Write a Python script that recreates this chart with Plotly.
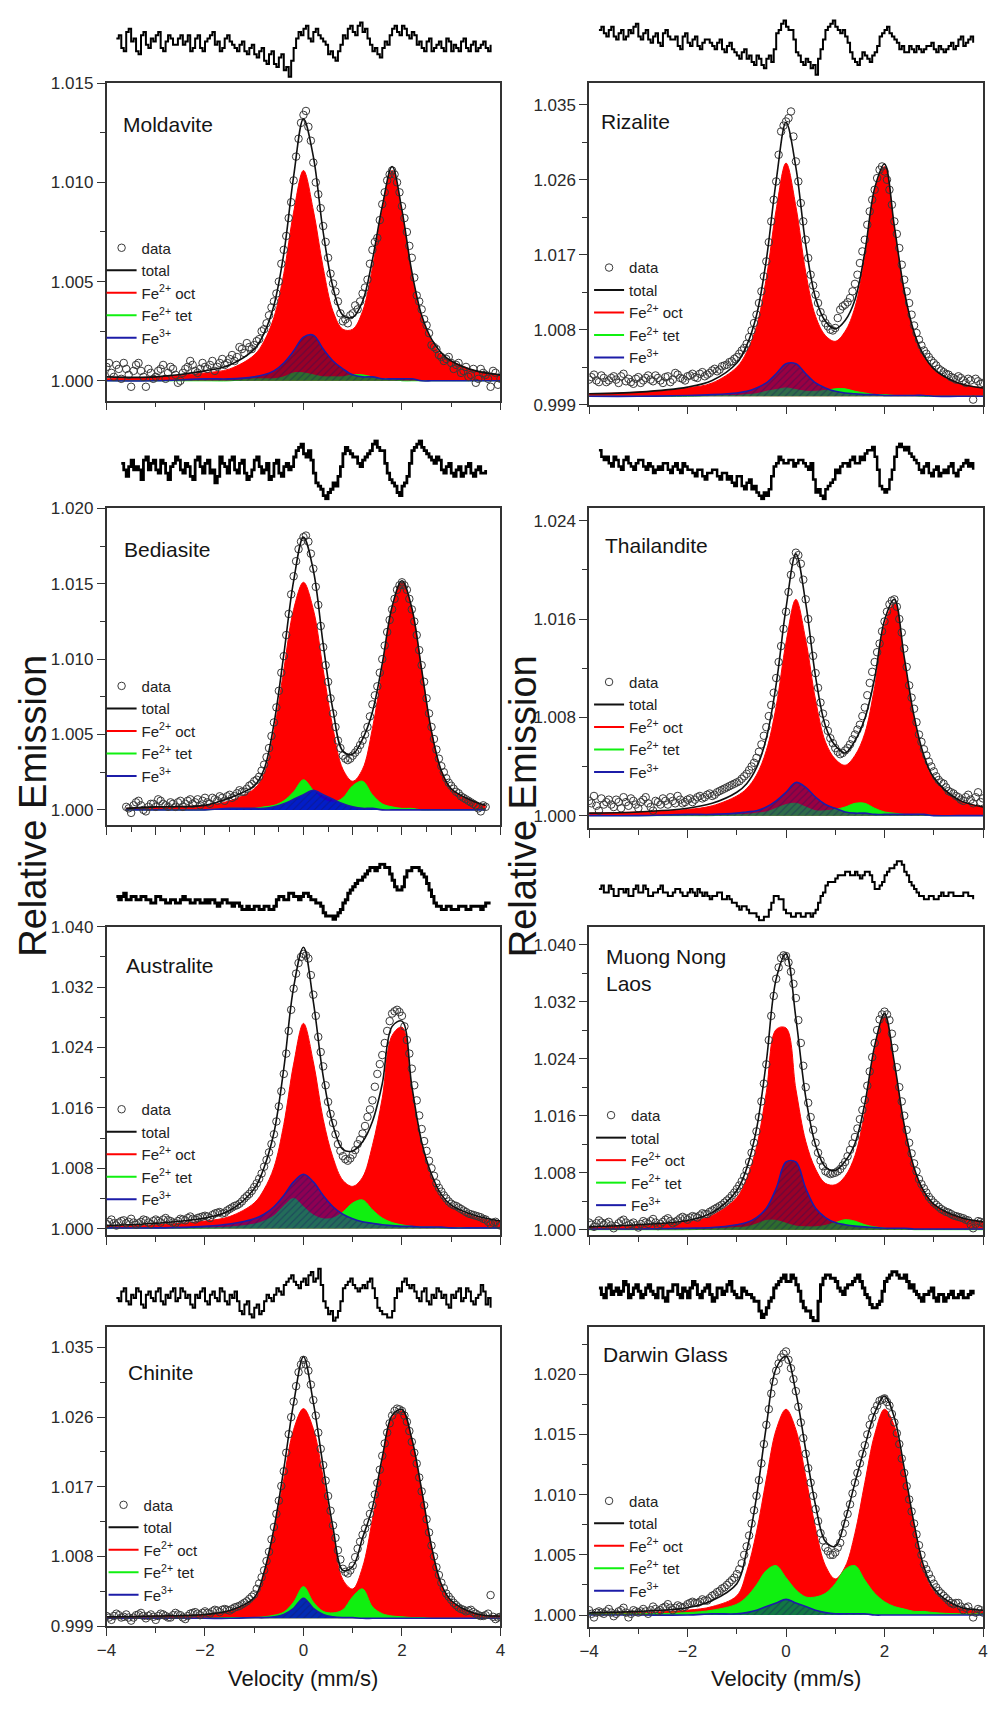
import plotly.graph_objects as go

W, H = 988, 1731
FONT = "Arial, Liberation Sans, sans-serif"

# ---------------- fit grids (velocity, mm/s) ----------------
XG = [-4.0, -3.0, -2.0, -1.5, -1.0, -0.8, -0.6, -0.4, -0.2, 0.0, 0.2, 0.4, 0.6, 0.8, 1.0,
      1.2, 1.4, 1.6, 1.8, 2.0, 2.2, 2.4, 2.6, 2.8, 3.0, 3.5, 4.0]
XG_BED = [-3.6, -3.0, -2.0, -1.5, -1.0, -0.8, -0.6, -0.4, -0.2, 0.0, 0.2, 0.4, 0.6, 0.8, 1.0,
          1.2, 1.4, 1.6, 1.8, 2.0, 2.2, 2.4, 2.6, 2.8, 3.0, 3.5, 3.7]

# ---------------- Moldavite ----------------
MOLD_OCT = [1.0001, 1.0002, 1.0004, 1.0006, 1.0013, 1.0020, 1.0032, 1.0054, 1.0085, 1.0106, 1.0086, 1.0057, 1.0035, 1.0026,
            1.0026, 1.0035, 1.0057, 1.0086, 1.0106, 1.0085, 1.0054, 1.0032, 1.0020, 1.0013, 1.0010, 1.0005, 1.0003]
MOLD_TET = [1.0000, 1.0000, 1.0000, 1.0000, 1.0001, 1.0001, 1.0001, 1.0002, 1.0004, 1.0004, 1.0003, 1.0002, 1.0002, 1.0002,
            1.0003, 1.0003, 1.0002, 1.0001, 1.0001, 1.0000, 1.0000, 1.0000, 1.0000, 1.0000, 1.0000, 1.0000, 1.0000]
MOLD_FE3 = [1.0000, 1.0000, 1.0001, 1.0001, 1.0002, 1.0003, 1.0005, 1.0009, 1.0015, 1.0022, 1.0023, 1.0016, 1.0010, 1.0006,
            1.0003, 1.0002, 1.0002, 1.0001, 1.0001, 1.0001, 1.0001, 1.0000, 1.0000, 1.0000, 1.0000, 1.0000, 1.0000]
MOLD_TOT = [1.0002, 1.0002, 1.0005, 1.0008, 1.0016, 1.0024, 1.0038, 1.0064, 1.0103, 1.0132, 1.0113, 1.0075, 1.0047, 1.0033,
            1.0032, 1.0040, 1.0061, 1.0088, 1.0108, 1.0086, 1.0055, 1.0033, 1.0021, 1.0014, 1.0010, 1.0005, 1.0003]
MOLD_DATA = [1.0007, 1.0004, 1.0008, 1.0001, 1.0006, 0.9997, 1.0008, 1.0005, 0.9997, 1.0004,
             1.0002, 1.0006, 1.0001, 1.0007, 1.0003, 1.0000, 1.0006, 1.0010, 1.0005, 1.0006,
             1.0007, 1.0008, 1.0005, 1.0009, 1.0008, 1.0011, 1.0010, 1.0017, 1.0014, 1.0017,
             1.0018, 1.0021, 1.0026, 1.0033, 1.0040, 1.0050, 1.0066, 1.0082, 1.0101, 1.0122,
             1.0134, 1.0128, 1.0110, 1.0094, 1.0078, 1.0062, 1.0049, 1.0040, 1.0030, 1.0029,
             1.0034, 1.0036, 1.0044, 1.0051, 1.0066, 1.0072, 1.0089, 1.0101, 1.0106, 1.0100,
             1.0088, 1.0075, 1.0062, 1.0043, 1.0036, 1.0028, 1.0018, 1.0016, 1.0012, 1.0011,
             1.0009, 1.0008, 1.0004, 1.0007, 1.0003, 0.9999, 1.0006, 1.0003, 0.9997, 1.0004,
             1.0001]
MOLD_DATA2 = [1.0009, 1.0002, 1.0006, 1.0009, 1.0003, 1.0005, 1.0009, 1.0002, 1.0006, 1.0001,
              1.0005, 1.0008, 1.0004, 1.0006, 0.9999, 1.0004, 1.0007, 1.0008, 1.0004, 1.0009,
              1.0006, 1.0010, 1.0007, 1.0011, 1.0009, 1.0013, 1.0012, 1.0016, 1.0019, 1.0016,
              1.0020, 1.0025, 1.0029, 1.0037, 1.0044, 1.0059, 1.0073, 1.0090, 1.0113, 1.0130,
              1.0136, 1.0121, 1.0100, 1.0087, 1.0070, 1.0054, 1.0045, 1.0034, 1.0031, 1.0033,
              1.0038, 1.0040, 1.0047, 1.0059, 1.0070, 1.0081, 1.0095, 1.0104, 1.0104, 1.0095,
              1.0082, 1.0068, 1.0052, 1.0040, 1.0031, 1.0024, 1.0017, 1.0013, 1.0010, 1.0012,
              1.0006, 1.0009, 1.0005, 1.0002, 1.0006, 1.0001, 1.0004, 1.0001, 1.0005, 0.9998]
MOLD_RES = [1, -2, 3, 0, -3, 2, -1, 1, 2, -2, 0, 1, -1, 2, 0, -3, 1, -2, 0, 2, -1, -3, 1, 0, -2, -1, -3,
            -2, -4, -3, -6, -4, -7, -5, -9, -11,
            -2, 3, 4, 1, 3, 2, 0,
            -4, -5, -3,
            2, 4, 3, 5, 3, 1,
            -3, -4, -2, -1,
            4, 3, 5, 2, 3,
            -1, -2, 0, -3, -1, -2, 1, -3, -2, 0, -2, -1, -3, -1, -2, -1]
MOLD_RES2 = [2, -3, 4, 1, -4, 3, -2, 0, 3, -3, 2, -1, 1, -1, 2, -2, 2, -3, 1, 3, 0, -2, 2, -1, -3, 0,
             -4, -1, -5, -2, -7, -3, -8, -4, -8, -6, 1, 2, 5, 0, 4, 1, -1, -3, -6, -1, 1, 5, 2, 6,
             4, -1, -2, -5, 0, 2, 5, 2, 4, 1, 2, 0, -3, 1, -2, 0, -3, 0, -1, -3, 1, -3, 0, -2, 0, -3]

# ---------------- Rizalite ----------------
RIZ_OCT = [1.0003, 1.0005, 1.0010, 1.0016, 1.0035, 1.0053, 1.0084, 1.0142, 1.0224, 1.0280, 1.0228, 1.0149, 1.0096, 1.0073,
           1.0066, 1.0078, 1.0107, 1.0167, 1.0246, 1.0276, 1.0202, 1.0125, 1.0075, 1.0048, 1.0032, 1.0016, 1.0010]
RIZ_TET = [1.0000, 1.0000, 1.0000, 1.0001, 1.0001, 1.0002, 1.0003, 1.0006, 1.0008, 1.0010, 1.0008, 1.0006, 1.0006, 1.0007,
           1.0009, 1.0009, 1.0006, 1.0004, 1.0002, 1.0002, 1.0001, 1.0001, 1.0001, 1.0000, 1.0000, 1.0000, 1.0000]
RIZ_FE3 = [1.0000, 1.0000, 1.0001, 1.0002, 1.0004, 1.0006, 1.0010, 1.0016, 1.0027, 1.0039, 1.0039, 1.0027, 1.0016, 1.0010,
           1.0006, 1.0004, 1.0003, 1.0002, 1.0002, 1.0001, 1.0001, 1.0001, 1.0001, 1.0001, 1.0000, 1.0000, 1.0000]
RIZ_TOT = [1.0003, 1.0005, 1.0011, 1.0019, 1.0040, 1.0061, 1.0097, 1.0164, 1.0259, 1.0329, 1.0275, 1.0182, 1.0118, 1.0090,
           1.0081, 1.0091, 1.0116, 1.0173, 1.0250, 1.0279, 1.0204, 1.0127, 1.0077, 1.0049, 1.0033, 1.0016, 1.0010]
RIZ_DATA = [1.0020, 1.0026, 1.0017, 1.0022, 1.0019, 1.0024, 1.0016, 1.0027, 1.0021, 1.0015,
            1.0023, 1.0019, 1.0025, 1.0018, 1.0022, 1.0016, 1.0024, 1.0020, 1.0026, 1.0021,
            1.0024, 1.0027, 1.0022, 1.0029, 1.0026, 1.0031, 1.0030, 1.0036, 1.0038, 1.0042,
            1.0047, 1.0055, 1.0063, 1.0079, 1.0098, 1.0126, 1.0162, 1.0210, 1.0258, 1.0318,
            1.0330, 1.0342, 1.0282, 1.0232, 1.0188, 1.0146, 1.0122, 1.0101, 1.0088, 1.0080,
            1.0082, 1.0104, 1.0110, 1.0118, 1.0135, 1.0160, 1.0188, 1.0222, 1.0248, 1.0272,
            1.0270, 1.0248, 1.0210, 1.0178, 1.0140, 1.0112, 1.0085, 1.0068, 1.0055, 1.0047,
            1.0040, 1.0033, 1.0029, 1.0026, 1.0022, 1.0024, 1.0019, 1.0021, 0.9996, 1.0018,
            1.0016]
RIZ_DATA2 = [1.0023, 1.0019, 1.0025, 1.0017, 1.0022, 1.0020, 1.0024, 1.0018, 1.0017, 1.0021,
             1.0016, 1.0022, 1.0020, 1.0025, 1.0019, 1.0023, 1.0017, 1.0028, 1.0022, 1.0019,
             1.0025, 1.0023, 1.0027, 1.0024, 1.0028, 1.0033, 1.0032, 1.0037, 1.0041, 1.0045,
             1.0051, 1.0058, 1.0071, 1.0088, 1.0112, 1.0144, 1.0185, 1.0236, 1.0290, 1.0325,
             1.0334, 1.0312, 1.0258, 1.0210, 1.0166, 1.0133, 1.0112, 1.0094, 1.0084, 1.0079,
             1.0094, 1.0108, 1.0113, 1.0126, 1.0146, 1.0174, 1.0206, 1.0236, 1.0262, 1.0276,
             1.0260, 1.0230, 1.0195, 1.0158, 1.0126, 1.0098, 1.0076, 1.0061, 1.0051, 1.0043,
             1.0037, 1.0031, 1.0027, 1.0023, 1.0020, 1.0022, 1.0016, 1.0019, 1.0021, 1.0015]
RIZ_RES = [4, 3, 4, 2, 3, 1, 4, 5, 2, 3, 1, 2, 0, 3, 2, 1, -1, 2, 0, 1, -1, 0, 1, -1, 0, -2, -1,
           -2, -4, -3, -5, -6, -4, -7, -5, -6,
           3, 6, 5, 4,
           -3, -6, -5, -8, -10,
           -2, 4, 6, 5, 3, 2,
           -3, -6, -5, -4, -6, -3,
           2, 4, 3, 1,
           -2, -3, -1, -3, -2, -2, -1, -2, -1, -3, -1, -2, 1, -1, 1, 0]
RIZ_RES2 = [5, 2, 5, 1, 4, 2, 3, 6, 1, 4, 0, 3, -1, 4, 1, 2, -2, 3, -1, 2, -2, 1, 0, -2, 1, -3,
            0, -3, -5, -2, -4, -7, -5, -8, -4, -2, 4, 7, 4, 1, -4, -7, -6, -7, -5, 1, 5, 7, 4, 4,
            0, -5, -7, -3, -5, -4, -1, 3, 5, 2, 0, -1, -3, -2, -1, -3, -1, 0, -3, -2, -2, 0, -1, 2, 0, 2]

# ---------------- Bediasite ----------------
BED_OCT = [1.0001, 1.0002, 1.0003, 1.0006, 1.0014, 1.0024, 1.0052, 1.0093, 1.0133, 1.0151, 1.0133, 1.0093, 1.0054, 1.0027,
           1.0019, 1.0027, 1.0054, 1.0093, 1.0133, 1.0151, 1.0133, 1.0093, 1.0052, 1.0026, 1.0014, 1.0005, 1.0003]
BED_TET = [1.0000, 1.0000, 1.0000, 1.0001, 1.0001, 1.0002, 1.0003, 1.0006, 1.0012, 1.0020, 1.0013, 1.0007, 1.0005, 1.0008,
           1.0016, 1.0019, 1.0010, 1.0004, 1.0002, 1.0001, 1.0001, 1.0000, 1.0000, 1.0000, 1.0000, 1.0000, 1.0000]
BED_FE3 = [1.0000, 1.0000, 1.0000, 1.0001, 1.0001, 1.0001, 1.0002, 1.0004, 1.0007, 1.0010, 1.0013, 1.0010, 1.0007, 1.0004,
           1.0002, 1.0001, 1.0001, 1.0000, 1.0000, 1.0000, 1.0000, 1.0000, 1.0000, 1.0000, 1.0000, 1.0000, 1.0000]
BED_TOT = [1.0001, 1.0002, 1.0003, 1.0008, 1.0016, 1.0027, 1.0057, 1.0103, 1.0152, 1.0181, 1.0159, 1.0110, 1.0066, 1.0039,
           1.0037, 1.0047, 1.0065, 1.0097, 1.0135, 1.0152, 1.0134, 1.0093, 1.0052, 1.0026, 1.0014, 1.0005, 1.0003]
BED_DATA = [1.0002, 0.9998, 1.0005, 1.0003, 0.9999, 1.0004, 1.0002, 1.0006, 1.0003, 1.0005,
            1.0002, 1.0006, 1.0004, 1.0007, 1.0005, 1.0003, 1.0008, 1.0004, 1.0007, 1.0009,
            1.0006, 1.0010, 1.0009, 1.0013, 1.0012, 1.0016, 1.0019, 1.0022, 1.0030, 1.0041,
            1.0058, 1.0079, 1.0102, 1.0130, 1.0155, 1.0173, 1.0181, 1.0178, 1.0160, 1.0136,
            1.0108, 1.0085, 1.0064, 1.0046, 1.0036, 1.0033, 1.0036, 1.0040, 1.0046, 1.0055,
            1.0070, 1.0082, 1.0100, 1.0118, 1.0133, 1.0146, 1.0151, 1.0146, 1.0133, 1.0116,
            1.0096, 1.0074, 1.0055, 1.0040, 1.0029, 1.0021, 1.0016, 1.0012, 1.0009, 1.0007,
            1.0005, 1.0003, 0.9999, 1.0002]
BED_DATA2 = [1.0001, 1.0003, 1.0006, 1.0000, 1.0002, 1.0004, 1.0007, 1.0004, 1.0002, 1.0004,
             1.0005, 1.0002, 1.0006, 1.0004, 1.0007, 1.0006, 1.0005, 1.0008, 1.0006, 1.0008,
             1.0009, 1.0008, 1.0011, 1.0012, 1.0014, 1.0017, 1.0020, 1.0026, 1.0035, 1.0049,
             1.0068, 1.0091, 1.0116, 1.0143, 1.0165, 1.0178, 1.0182, 1.0170, 1.0148, 1.0122,
             1.0096, 1.0074, 1.0055, 1.0041, 1.0034, 1.0034, 1.0038, 1.0043, 1.0050, 1.0062,
             1.0076, 1.0091, 1.0109, 1.0126, 1.0140, 1.0149, 1.0149, 1.0140, 1.0125, 1.0106,
             1.0085, 1.0064, 1.0047, 1.0034, 1.0025, 1.0018, 1.0014, 1.0011, 1.0008, 1.0006,
             1.0004, 1.0001, 1.0003]
BED_RES = [1, -3, 2, 0, -4, 3, 1, -1, 2, -2, 0, 3, -1, 1, -3, 2, 0, 1, -2, -5, 3, 0, 2, -1, 1, -2, -3, 2, 0, -1, -4, 1, -2, 0, -1,
           3, 6, 4, 5,
           -2, -6, -9, -8, -5, -3,
           4, 5, 3,
           1, 2, 4,
           7, 6, 5,
           -2, -5, -8, -6, -3,
           5, 7, 6, 4, 2, 3,
           -1, 0, -2, -1, -3, 0, -2, -1, -2, -1]
BED_RES2 = [-1, 0, -1, -1, 2, -1, 2, -2, 1, -4, 1, 2, -2, 0, -4, 3, -2, 2, -1, -3, 1, -2, 3, -2, 2, -4,
            -1, 3, -2, 1, -3, 2, -3, 1, 0, 5, 7, 3, 2, -5, -7, -10, -7, -6, 0, 6, 4, 3, 0, 3,
            5, 8, 5, 1, -4, -6, -9, -5, 1, 6, 8, 5, 3, 1, 2, -2, 1, -3, 0, -2, 1, -3, 0, -2]

# ---------------- Thailandite ----------------
THA_OCT = [1.0002, 1.0003, 1.0005, 1.0008, 1.0016, 1.0022, 1.0033, 1.0053, 1.0089, 1.0141, 1.0176, 1.0143, 1.0094, 1.0060,
           1.0046, 1.0041, 1.0049, 1.0067, 1.0105, 1.0155, 1.0173, 1.0127, 1.0079, 1.0047, 1.0030, 1.0013, 1.0007]
THA_TET = [1.0000, 1.0000, 1.0000, 1.0000, 1.0001, 1.0001, 1.0002, 1.0003, 1.0006, 1.0009, 1.0010, 1.0007, 1.0004, 1.0004,
           1.0005, 1.0007, 1.0010, 1.0010, 1.0006, 1.0003, 1.0002, 1.0001, 1.0001, 1.0001, 1.0000, 1.0000, 1.0000]
THA_FE3 = [1.0000, 1.0000, 1.0001, 1.0001, 1.0002, 1.0003, 1.0004, 1.0007, 1.0012, 1.0019, 1.0027, 1.0023, 1.0015, 1.0009,
           1.0006, 1.0003, 1.0002, 1.0002, 1.0001, 1.0001, 1.0001, 1.0001, 1.0001, 1.0001, 1.0000, 1.0000, 1.0000]
THA_TOT = [1.0002, 1.0003, 1.0006, 1.0010, 1.0019, 1.0026, 1.0039, 1.0063, 1.0107, 1.0169, 1.0213, 1.0173, 1.0113, 1.0073,
           1.0057, 1.0051, 1.0061, 1.0079, 1.0112, 1.0159, 1.0176, 1.0129, 1.0081, 1.0049, 1.0031, 1.0013, 1.0007]
THA_DATA = [1.0012, 1.0016, 1.0004, 1.0009, 1.0013, 1.0007, 1.0011, 1.0015, 1.0008, 1.0012,
            1.0006, 1.0013, 1.0010, 1.0004, 1.0011, 1.0014, 1.0009, 1.0012, 1.0016, 1.0010,
            1.0013, 1.0011, 1.0015, 1.0014, 1.0017, 1.0016, 1.0019, 1.0021, 1.0023, 1.0025,
            1.0027, 1.0030, 1.0034, 1.0040, 1.0047, 1.0058, 1.0072, 1.0090, 1.0112, 1.0138,
            1.0166, 1.0196, 1.0214, 1.0205, 1.0176, 1.0143, 1.0116, 1.0092, 1.0075, 1.0063,
            1.0055, 1.0050, 1.0053, 1.0058, 1.0066, 1.0074, 1.0088, 1.0108, 1.0125, 1.0140,
            1.0158, 1.0172, 1.0176, 1.0160, 1.0136, 1.0106, 1.0087, 1.0066, 1.0054, 1.0044,
            1.0036, 1.0029, 1.0026, 1.0020, 1.0018, 1.0015, 1.0012, 1.0017, 1.0010, 1.0019,
            1.0014]
THA_DATA2 = [1.0010, 1.0008, 1.0014, 1.0011, 1.0009, 1.0013, 1.0006, 1.0011, 1.0014, 1.0009,
             1.0011, 1.0015, 1.0007, 1.0012, 1.0009, 1.0012, 1.0015, 1.0010, 1.0013, 1.0011,
             1.0014, 1.0013, 1.0016, 1.0015, 1.0018, 1.0017, 1.0020, 1.0022, 1.0024, 1.0026,
             1.0028, 1.0032, 1.0037, 1.0043, 1.0052, 1.0065, 1.0081, 1.0100, 1.0125, 1.0152,
             1.0182, 1.0207, 1.0212, 1.0192, 1.0160, 1.0130, 1.0104, 1.0083, 1.0069, 1.0059,
             1.0052, 1.0051, 1.0055, 1.0062, 1.0070, 1.0081, 1.0098, 1.0117, 1.0133, 1.0150,
             1.0166, 1.0175, 1.0170, 1.0149, 1.0121, 1.0096, 1.0076, 1.0060, 1.0049, 1.0040,
             1.0032, 1.0027, 1.0023, 1.0019, 1.0016, 1.0013, 1.0015, 1.0013, 1.0015, 1.0011]
THA_RES = [5, 2, 1, 3, 0, 2, 1, -1, 2, 0, 1, -2, 0, 1, -1, 0, -1, 1, -1,
           -2, -1, -3, -2, -1, -3, -2,
           -4, -5, -3, -6, -5, -7, -8, -10, -9,
           -3, 1, 2, 1, 2, 1, 2, 0, 1,
           -8, -9, -7, -5,
           -1, 0, 1, 2, 1, 3, 4, 5, 3,
           -6, -8, -4,
           3, 7, 5, 4, 2,
           -1, 0, -2, -1, -3, -1, 0, -2, -1, 1, 0, -1]
THA_RES2 = [3, 3, 0, 2, -1, 3, 0, 1, 2, -1, 0, -1, -1, 1, -2, 1, -2, 0, -1, -3, -1, -4, -2, -1, -4, -2,
            -3, -6, -3, -7, -4, -6, -9, -8, -7, 0, 3, 1, 2, 0, 2, 1, -1, -4, -7, -10, -6, -4, -2, 1,
            0, 3, 1, 2, 5, 6, -1, -7, -7, -1, 6, 6, 6, 3, 1, -2, 1, -3, 0, -2, -2, 1, -3, 0, 2, 1]

# ---------------- Australite ----------------
AUS_OCT = [1.0003, 1.0005, 1.0010, 1.0016, 1.0034, 1.0052, 1.0081, 1.0138, 1.0218, 1.0272, 1.0221, 1.0145, 1.0094, 1.0064,
           1.0056, 1.0068, 1.0110, 1.0173, 1.0256, 1.0267, 1.0183, 1.0111, 1.0068, 1.0042, 1.0029, 1.0015, 1.0009]
AUS_TET = [1.0000, 1.0001, 1.0001, 1.0002, 1.0006, 1.0010, 1.0017, 1.0030, 1.0040, 1.0029, 1.0018, 1.0013, 1.0014, 1.0022,
           1.0034, 1.0038, 1.0025, 1.0014, 1.0008, 1.0005, 1.0003, 1.0002, 1.0002, 1.0001, 1.0001, 1.0001, 1.0000]
AUS_FE3 = [1.0001, 1.0001, 1.0003, 1.0006, 1.0013, 1.0019, 1.0029, 1.0044, 1.0062, 1.0072, 1.0062, 1.0044, 1.0029, 1.0019,
           1.0013, 1.0009, 1.0007, 1.0005, 1.0004, 1.0003, 1.0003, 1.0002, 1.0002, 1.0002, 1.0001, 1.0001, 1.0001]
AUS_TOT = [1.0004, 1.0007, 1.0014, 1.0024, 1.0053, 1.0081, 1.0127, 1.0212, 1.0320, 1.0373, 1.0301, 1.0202, 1.0137, 1.0105,
           1.0103, 1.0115, 1.0142, 1.0192, 1.0268, 1.0275, 1.0189, 1.0115, 1.0072, 1.0045, 1.0031, 1.0017, 1.0010]
AUS_DATA = [1.0006, 1.0012, 1.0004, 1.0010, 1.0007, 1.0013, 1.0005, 1.0009, 1.0011, 1.0006,
            1.0012, 1.0008, 1.0014, 1.0010, 1.0007, 1.0013, 1.0011, 1.0016, 1.0012, 1.0015,
            1.0017, 1.0014, 1.0020, 1.0022, 1.0021, 1.0026, 1.0030, 1.0033, 1.0040, 1.0046,
            1.0055, 1.0066, 1.0082, 1.0101, 1.0125, 1.0162, 1.0205, 1.0262, 1.0318, 1.0352,
            1.0364, 1.0358, 1.0310, 1.0254, 1.0215, 1.0168, 1.0140, 1.0112, 1.0096, 1.0090,
            1.0098, 1.0112, 1.0126, 1.0148, 1.0170, 1.0205, 1.0230, 1.0262, 1.0285, 1.0290,
            1.0282, 1.0250, 1.0212, 1.0170, 1.0132, 1.0103, 1.0080, 1.0060, 1.0049, 1.0040,
            1.0033, 1.0030, 1.0026, 1.0022, 1.0019, 1.0017, 1.0015, 1.0012, 1.0006, 1.0009,
            1.0004]
AUS_DATA2 = [1.0009, 1.0007, 1.0008, 1.0011, 1.0009, 1.0008, 1.0007, 1.0012, 1.0008, 1.0010,
             1.0010, 1.0012, 1.0011, 1.0008, 1.0010, 1.0012, 1.0014, 1.0013, 1.0014, 1.0016,
             1.0016, 1.0018, 1.0021, 1.0020, 1.0024, 1.0028, 1.0031, 1.0036, 1.0043, 1.0050,
             1.0060, 1.0073, 1.0091, 1.0112, 1.0142, 1.0182, 1.0232, 1.0290, 1.0338, 1.0360,
             1.0362, 1.0336, 1.0282, 1.0234, 1.0190, 1.0152, 1.0125, 1.0103, 1.0092, 1.0093,
             1.0104, 1.0118, 1.0136, 1.0158, 1.0188, 1.0218, 1.0246, 1.0275, 1.0288, 1.0287,
             1.0268, 1.0232, 1.0190, 1.0150, 1.0116, 1.0090, 1.0070, 1.0054, 1.0044, 1.0036,
             1.0031, 1.0028, 1.0024, 1.0020, 1.0018, 1.0016, 1.0013, 1.0009, 1.0008, 1.0006]
AUS_RES = [1, 1, 0, 1, 0, 1, 0, -1, 1, 0, -1, 0, -1, 0, 0, -1, 0, -1, 0, 0, -1, -1, 0, -1, -1,
           -2, -3, -3, -2, -3, -2, -3, -2,
           1, 0, 2, 1, 0, 2, 1, 0, -1,
           -4, -5, -6, -4,
           -1, 2, 4, 6, 7,
           9, 10, 10, 11, 10,
           6, 3, 4,
           9, 10, 10, 8,
           5, 1, -2, -3,
           -2, -3, -3, -2, -3, -2, -2, -3, -1, -1]
AUS_RES2 = [0, 2, 0, 1, 0, 1, 0, -1, 1, 0, -1, 0, -1, 1, 0, -1, 0, -1, -1, 0, -2, 0, -1, -2, -1, -3,
            -2, -3, -2, -3, -2, -3, 0, 1, 0, 2, 1, 1, 2, 0, -1, -2, -5, -5, -5, -3, 0, 3, 5, 6,
            8, 10, 9, 11, 10, 8, 4, 3, 7, 9, 10, 9, 7, 3, -1, -2, -3, -2, -3, -2, -2, -3, -2, -2, -2, -1]

# ---------------- Muong Nong, Laos ----------------
MNL_OCT = [1.0003, 1.0006, 1.0011, 1.0020, 1.0045, 1.0072, 1.0116, 1.0193, 1.0281, 1.0283, 1.0197, 1.0124, 1.0085, 1.0065,
           1.0063, 1.0075, 1.0104, 1.0166, 1.0251, 1.0299, 1.0231, 1.0144, 1.0086, 1.0053, 1.0035, 1.0017, 1.0010]
MNL_TET = [1.0000, 1.0000, 1.0000, 1.0001, 1.0003, 1.0004, 1.0008, 1.0013, 1.0013, 1.0009, 1.0005, 1.0004, 1.0004, 1.0006,
           1.0010, 1.0014, 1.0012, 1.0007, 1.0004, 1.0002, 1.0001, 1.0001, 1.0000, 1.0000, 1.0000, 1.0000, 1.0000]
MNL_FE3 = [1.0001, 1.0001, 1.0002, 1.0003, 1.0007, 1.0010, 1.0017, 1.0030, 1.0058, 1.0095, 1.0095, 1.0058, 1.0030, 1.0017,
           1.0010, 1.0007, 1.0005, 1.0004, 1.0003, 1.0002, 1.0002, 1.0002, 1.0001, 1.0001, 1.0001, 1.0001, 1.0001]
MNL_TOT = [1.0004, 1.0007, 1.0013, 1.0024, 1.0055, 1.0086, 1.0141, 1.0236, 1.0352, 1.0387, 1.0297, 1.0186, 1.0119, 1.0088,
           1.0083, 1.0096, 1.0121, 1.0177, 1.0258, 1.0303, 1.0234, 1.0147, 1.0087, 1.0054, 1.0036, 1.0018, 1.0011]
MNL_DATA = [1.0010, 1.0004, 1.0013, 1.0007, 1.0011, 1.0002, 1.0009, 1.0014, 1.0006, 1.0010,
            1.0003, 1.0012, 1.0008, 1.0015, 1.0005, 1.0011, 1.0016, 1.0009, 1.0013, 1.0018,
            1.0014, 1.0019, 1.0017, 1.0023, 1.0022, 1.0027, 1.0031, 1.0035, 1.0041, 1.0048,
            1.0057, 1.0068, 1.0083, 1.0108, 1.0138, 1.0180, 1.0232, 1.0300, 1.0352, 1.0381,
            1.0384, 1.0362, 1.0325, 1.0262, 1.0200, 1.0158, 1.0122, 1.0097, 1.0082, 1.0078,
            1.0080, 1.0085, 1.0095, 1.0112, 1.0130, 1.0155, 1.0182, 1.0222, 1.0262, 1.0295,
            1.0306, 1.0294, 1.0255, 1.0200, 1.0160, 1.0122, 1.0093, 1.0071, 1.0058, 1.0046,
            1.0038, 1.0032, 1.0027, 1.0024, 1.0020, 1.0018, 1.0016, 1.0013, 1.0002, 1.0012,
            1.0009]
MNL_DATA2 = [1.0007, 1.0009, 1.0010, 1.0009, 1.0006, 1.0005, 1.0012, 1.0010, 1.0008, 1.0006,
             1.0008, 1.0010, 1.0012, 1.0010, 1.0008, 1.0014, 1.0012, 1.0011, 1.0016, 1.0016,
             1.0017, 1.0018, 1.0020, 1.0022, 1.0025, 1.0029, 1.0033, 1.0038, 1.0044, 1.0052,
             1.0062, 1.0075, 1.0095, 1.0122, 1.0158, 1.0205, 1.0266, 1.0328, 1.0368, 1.0385,
             1.0375, 1.0345, 1.0294, 1.0230, 1.0178, 1.0140, 1.0108, 1.0089, 1.0080, 1.0079,
             1.0082, 1.0090, 1.0103, 1.0121, 1.0142, 1.0168, 1.0202, 1.0242, 1.0280, 1.0302,
             1.0302, 1.0275, 1.0228, 1.0180, 1.0140, 1.0107, 1.0082, 1.0064, 1.0052, 1.0042,
             1.0035, 1.0029, 1.0025, 1.0022, 1.0019, 1.0017, 1.0014, 1.0007, 1.0008, 1.0011]
MNL_RES = [1, 0, 2, -1, 1, 0, -1, 1, 0, 2, -1, 0, 1, 0, -1, 0, 1, -1, 0, 0, 1, -1,
           -1, -1, 0, -2, -1,
           -3, -4, -4, -5, -6,
           -7, -8, -7,
           -3, -1, -2,
           -6, -7, -6, -7, -6, -7, -5,
           -1, 2, 3, 4,
           5, 6, 5, 6, 4, 6, 5,
           1, 2,
           5, 7, 8, 9,
           6, 3, 1, -1, -2,
           -1, -2, -1, -1, 0, -1, -1, 0, -1, -2]
MNL_RES2 = [2, 0, 1, -1, 1, 1, -1, 2, 0, 1, -1, 0, 2, 0, -1, 1, 0, -1, 1, -1, 0, 0, -2, -1, 0, -2,
            -2, -3, -5, -4, -6, -6, -8, -7, -5, -1, -2, -5, -6, -7, -6, -7, -6, -6, -3, 0, 3, 3, 5, 5,
            6, 5, 5, 5, 6, 3, 1, 3, 6, 7, 9, 8, 5, 2, 0, -1, -2, -1, -2, 0, -1, 0, -1, -1, 0, -1]

# ---------------- Chinite ----------------
CHI_OCT = [1.0002, 1.0003, 1.0005, 1.0009, 1.0025, 1.0057, 1.0110, 1.0180, 1.0244, 1.0271, 1.0245, 1.0182, 1.0108, 1.0050,
           1.0038, 1.0066, 1.0128, 1.0202, 1.0259, 1.0268, 1.0231, 1.0165, 1.0092, 1.0043, 1.0022, 1.0006, 1.0003]
CHI_TET = [1.0000, 1.0000, 1.0000, 1.0001, 1.0001, 1.0002, 1.0004, 1.0008, 1.0021, 1.0041, 1.0021, 1.0009, 1.0007, 1.0011,
           1.0028, 1.0038, 1.0015, 1.0006, 1.0003, 1.0002, 1.0001, 1.0001, 1.0000, 1.0000, 1.0000, 1.0000, 1.0000]
CHI_FE3 = [1.0000, 1.0000, 1.0000, 1.0000, 1.0001, 1.0001, 1.0002, 1.0005, 1.0013, 1.0026, 1.0013, 1.0005, 1.0002, 1.0001,
           1.0001, 1.0000, 1.0000, 1.0000, 1.0000, 1.0000, 1.0000, 1.0000, 1.0000, 1.0000, 1.0000, 1.0000, 1.0000]
CHI_TOT = [1.0002, 1.0003, 1.0005, 1.0010, 1.0027, 1.0060, 1.0116, 1.0193, 1.0278, 1.0338, 1.0279, 1.0196, 1.0117, 1.0062,
           1.0067, 1.0104, 1.0143, 1.0208, 1.0262, 1.0270, 1.0232, 1.0166, 1.0093, 1.0044, 1.0023, 1.0006, 1.0003]
CHI_DATA = [1.0003, 0.9998, 1.0006, 1.0001, 1.0005, 0.9997, 1.0004, 1.0007, 1.0000, 1.0005,
            0.9998, 1.0006, 1.0003, 1.0001, 1.0007, 1.0004, 0.9999, 1.0006, 1.0008, 1.0004,
            1.0009, 1.0006, 1.0011, 1.0008, 1.0012, 1.0010, 1.0014, 1.0016, 1.0020, 1.0025,
            1.0031, 1.0045, 1.0062, 1.0086, 1.0118, 1.0152, 1.0190, 1.0238, 1.0280, 1.0318,
            1.0334, 1.0320, 1.0282, 1.0240, 1.0198, 1.0158, 1.0120, 1.0088, 1.0064, 1.0058,
            1.0068, 1.0090, 1.0108, 1.0124, 1.0146, 1.0175, 1.0210, 1.0240, 1.0262, 1.0271,
            1.0268, 1.0254, 1.0228, 1.0200, 1.0164, 1.0128, 1.0094, 1.0066, 1.0046, 1.0032,
            1.0024, 1.0017, 1.0012, 1.0009, 1.0011, 1.0006, 1.0003, 1.0004, 1.0030, 0.9999,
            1.0002]
CHI_DATA2 = [1.0001, 1.0003, 1.0004, 1.0002, 1.0001, 1.0001, 1.0005, 1.0003, 1.0003, 1.0002,
             1.0003, 1.0005, 1.0001, 1.0004, 1.0005, 1.0001, 1.0003, 1.0007, 1.0006, 1.0007,
             1.0007, 1.0009, 1.0010, 1.0011, 1.0011, 1.0012, 1.0015, 1.0018, 1.0022, 1.0028,
             1.0038, 1.0053, 1.0074, 1.0102, 1.0135, 1.0171, 1.0214, 1.0260, 1.0300, 1.0328,
             1.0328, 1.0302, 1.0262, 1.0219, 1.0178, 1.0139, 1.0104, 1.0076, 1.0060, 1.0062,
             1.0079, 1.0099, 1.0116, 1.0135, 1.0160, 1.0192, 1.0226, 1.0252, 1.0268, 1.0270,
             1.0262, 1.0242, 1.0214, 1.0182, 1.0146, 1.0111, 1.0080, 1.0056, 1.0039, 1.0028,
             1.0020, 1.0014, 1.0011, 1.0010, 1.0008, 1.0004, 1.0003, 1.0006, 1.0002, 1.0001]
CHI_RES = [0, 2, -1, 1, 3, -2, 1, 0, 2, -1, 1, 2, -1, 3, 0, -2, 1, 2, -1, 1, 0, 3, -1, 1, 2,
           -4, -2, -5, -3, -5, -1,
           0, 1, 2,
           4, 6, 5, 3, 6, 7, 5, 9,
           -1, -5, -7, -4,
           3, 5, 4, 2, 4, 5, 3,
           -3, -5, -6, -4,
           3, 5, 4, 4,
           0, 2, -1, 1, 3, 0, -2, 1, 2, -1, 3, -1, 0, 4, -2, -3]
CHI_RES2 = [-1, 3, -2, 0, 2, -3, 2, -1, 3, -2, 0, 3, 0, 2, 1, -3, 0, 3, -2, 2, -1, 2, -2, 0, -1, -5,
            -1, -6, -2, -4, 1, -1, 3, 1, 5, 7, 4, 5, 4, 8, 6, 4, -3, -4, -6, -1, 4, 6, 3, 3,
            3, 6, 0, -4, -5, -6, 0, 2, 6, 3, 2, -1, 3, -2, 0, 2, 1, -3, 0, 3, 0, 2, -2, 1, 2, 0]

# ---------------- Darwin Glass ----------------
DAR_OCT = [1.0001, 1.0002, 1.0004, 1.0007, 1.0016, 1.0036, 1.0069, 1.0113, 1.0154, 1.0171, 1.0154, 1.0115, 1.0072, 1.0041,
           1.0030, 1.0040, 1.0068, 1.0110, 1.0150, 1.0171, 1.0157, 1.0117, 1.0073, 1.0037, 1.0020, 1.0006, 1.0003]
DAR_TET = [1.0001, 1.0001, 1.0002, 1.0004, 1.0009, 1.0015, 1.0025, 1.0037, 1.0041, 1.0031, 1.0021, 1.0015, 1.0015, 1.0018,
           1.0026, 1.0038, 1.0041, 1.0029, 1.0018, 1.0011, 1.0007, 1.0005, 1.0003, 1.0003, 1.0002, 1.0001, 1.0001]
DAR_FE3 = [1.0000, 1.0000, 1.0000, 1.0001, 1.0001, 1.0002, 1.0004, 1.0007, 1.0010, 1.0013, 1.0010, 1.0007, 1.0004, 1.0002,
           1.0001, 1.0001, 1.0001, 1.0001, 1.0000, 1.0000, 1.0000, 1.0000, 1.0000, 1.0000, 1.0000, 1.0000, 1.0000]
DAR_TOT = [1.0002, 1.0003, 1.0006, 1.0012, 1.0026, 1.0053, 1.0098, 1.0157, 1.0205, 1.0215, 1.0185, 1.0137, 1.0091, 1.0061,
           1.0057, 1.0079, 1.0110, 1.0140, 1.0168, 1.0182, 1.0164, 1.0122, 1.0076, 1.0040, 1.0022, 1.0007, 1.0004]
DAR_DATA = [1.0004, 0.9998, 1.0003, 1.0001, 1.0005, 0.9999, 1.0003, 1.0006, 0.9998, 1.0004,
            1.0002, 1.0005, 1.0001, 1.0007, 1.0003, 1.0006, 1.0009, 1.0004, 1.0008, 1.0006,
            1.0009, 1.0011, 1.0010, 1.0013, 1.0012, 1.0016, 1.0019, 1.0022, 1.0025, 1.0029,
            1.0034, 1.0043, 1.0057, 1.0076, 1.0099, 1.0126, 1.0158, 1.0184, 1.0203, 1.0214,
            1.0219, 1.0205, 1.0186, 1.0160, 1.0134, 1.0110, 1.0088, 1.0068, 1.0056, 1.0050,
            1.0052, 1.0060, 1.0076, 1.0092, 1.0110, 1.0126, 1.0141, 1.0158, 1.0170, 1.0178,
            1.0180, 1.0174, 1.0160, 1.0142, 1.0118, 1.0096, 1.0076, 1.0058, 1.0042, 1.0034,
            1.0026, 1.0020, 1.0016, 1.0012, 1.0009, 1.0010, 1.0004, 1.0007, 0.9998, 1.0005,
            1.0002]
DAR_DATA2 = [1.0001, 1.0002, 1.0002, 1.0003, 1.0002, 1.0001, 1.0004, 1.0002, 1.0001, 1.0003,
             1.0003, 1.0003, 1.0004, 1.0005, 1.0004, 1.0007, 1.0006, 1.0006, 1.0007, 1.0007,
             1.0010, 1.0010, 1.0011, 1.0012, 1.0014, 1.0017, 1.0020, 1.0023, 1.0027, 1.0031,
             1.0038, 1.0050, 1.0066, 1.0087, 1.0112, 1.0142, 1.0171, 1.0194, 1.0209, 1.0217,
             1.0212, 1.0196, 1.0173, 1.0147, 1.0122, 1.0099, 1.0078, 1.0062, 1.0053, 1.0050,
             1.0056, 1.0068, 1.0084, 1.0101, 1.0118, 1.0134, 1.0150, 1.0164, 1.0174, 1.0179,
             1.0177, 1.0167, 1.0151, 1.0130, 1.0107, 1.0086, 1.0067, 1.0050, 1.0038, 1.0030,
             1.0023, 1.0018, 1.0014, 1.0010, 1.0010, 1.0007, 1.0006, 1.0003, 1.0002, 1.0004]
DAR_RES = [1, -2, 2, 0, -1, 3, -2, 1, 0, -1, 2, -1, 1, -2, 0, 2, -1, 1, -2, 3, -1, 0, 2, -3, 1, -1, 2, 0, -2, 1, -1, -2, -3,
           -8, -5, -2,
           2, 4, 3, 5, 2,
           -3, -6, -8, -9,
           2, 5, 4, 3,
           0, 1, 2,
           4, 3,
           -1, -4, -5, -3,
           3, 5, 6, 4, 5,
           1, 0, -2, -1, 0, -2, -1, -3, -1, -2, -1, -2, -1, -1]
DAR_RES2 = [-1, 1, -1, 1, 0, 2, -1, 2, -2, 1, 0, -2, 1, -3, 0, 2, -2, 0, 1, 2, -2, 1, -1, -2, 1, 0,
            3, -1, -2, 0, -1, -3, -6, -7, -3, 1, 3, 5, 3, 4, 0, -5, -6, -9, -3, 4, 5, 4, 1, -1,
            2, 3, 5, 1, -2, -5, -4, 0, 4, 6, 5, 4, 3, 2, -1, -3, -1, 1, -3, -1, -2, 0, -2, 0, -2, 0]

NAMES = ["Moldavite", "Rizalite", "Bediasite", "Thailandite", "Australite",
         "Muong Nong<br>Laos", "Chinite", "Darwin Glass"]
LEGEND_LABELS = ["data", "total", "Fe<sup>2+</sup> oct", "Fe<sup>2+</sup> tet", "Fe<sup>3+</sup>"]

# ---------------- styling / geometry (pixels of the 988x1731 page) ----------------
C_RED, C_GREEN, C_BLUE, C_AX = "#ff0000", "#10f010", "#1c1ca8", "#333333"
FE3_BG = ["rgba(70,0,70,0.55)", "rgba(70,0,120,0.55)", "rgba(0,0,225,0.88)", "rgba(70,0,120,0.55)",
          "rgba(50,0,150,0.55)", "rgba(70,0,70,0.55)", "rgba(0,0,215,0.82)", "rgba(20,0,120,0.5)"]

PANELS = [
    dict(xg=XG, oct=MOLD_OCT, tet=MOLD_TET, fe3=MOLD_FE3, tot=MOLD_TOT, data=MOLD_DATA, data2=MOLD_DATA2, d0=-4.0,
         res=MOLD_RES, res2=MOLD_RES2, r0=-3.8,
         xpx=(98, 498), ypx=(75, 396), yr=[0.999, 1.015], t0=1.0, dt=0.005, mdt=0.0025, rpx=(12, 70),
         leg=(105, 247), title=(113, 117), xlab=False, xdt=2, xmdt=1, rw=2.0),
    dict(xg=XG, oct=RIZ_OCT, tet=RIZ_TET, fe3=RIZ_FE3, tot=RIZ_TOT, data=RIZ_DATA, data2=RIZ_DATA2, d0=-4.0,
         res=RIZ_RES, res2=RIZ_RES2, r0=-3.8,
         xpx=(588, 988), ypx=(75, 400), yr=[0.999, 1.0376], t0=0.999, dt=0.009, mdt=0.0045, rpx=(10, 68),
         leg=(600, 267), title=(598, 114), xlab=False, xdt=2, xmdt=1, rw=2.0),
    dict(xg=XG_BED, oct=BED_OCT, tet=BED_TET, fe3=BED_FE3, tot=BED_TOT, data=BED_DATA, data2=BED_DATA2, d0=-3.6,
         res=BED_RES, res2=BED_RES2, r0=-3.7,
         xpx=(98, 498), ypx=(505, 825), yr=[0.999, 1.020], t0=1.0, dt=0.005, mdt=0.0025, rpx=(435, 497),
         leg=(105, 690), title=(114, 547), xlab=False, xdt=1, xmdt=0.5, rw=2.8),
    dict(xg=XG, oct=THA_OCT, tet=THA_TET, fe3=THA_FE3, tot=THA_TOT, data=THA_DATA, data2=THA_DATA2, d0=-4.0,
         res=THA_RES, res2=THA_RES2, r0=-3.8,
         xpx=(588, 988), ypx=(505, 828), yr=[0.999, 1.025], t0=1.0, dt=0.008, mdt=0.004, rpx=(438, 497),
         leg=(600, 686), title=(602, 542), xlab=False, xdt=2, xmdt=1, rw=2.5),
    dict(xg=XG, oct=AUS_OCT, tet=AUS_TET, fe3=AUS_FE3, tot=AUS_TOT, data=AUS_DATA, data2=AUS_DATA2, d0=-4.0,
         res=AUS_RES, res2=AUS_RES2, r0=-3.8,
         xpx=(98, 498), ypx=(928, 1240), yr=[0.9991, 1.040], t0=1.0, dt=0.008, mdt=0.004, rpx=(863, 922),
         leg=(105, 1118), title=(116, 967), xlab=False, xdt=2, xmdt=1, rw=3.0),
    dict(xg=XG, oct=MNL_OCT, tet=MNL_TET, fe3=MNL_FE3, tot=MNL_TOT, data=MNL_DATA, data2=MNL_DATA2, d0=-4.0,
         res=MNL_RES, res2=MNL_RES2, r0=-3.8,
         xpx=(588, 988), ypx=(928, 1240), yr=[0.9992, 1.0425], t0=1.0, dt=0.008, mdt=0.004, rpx=(860, 923),
         leg=(602, 1124), title=(603, 972), xlab=False, xdt=2, xmdt=1, rw=2.0),
    dict(xg=XG, oct=CHI_OCT, tet=CHI_TET, fe3=CHI_FE3, tot=CHI_TOT, data=CHI_DATA, data2=CHI_DATA2, d0=-4.0,
         res=CHI_RES, res2=CHI_RES2, r0=-3.8,
         xpx=(98, 498), ypx=(1333, 1635), yr=[0.999, 1.0376], t0=0.999, dt=0.009, mdt=0.0045, rpx=(1272, 1328),
         leg=(107, 1518), title=(118, 1379), xlab=True, xdt=2, xmdt=1, rw=2.0),
    dict(xg=XG, oct=DAR_OCT, tet=DAR_TET, fe3=DAR_FE3, tot=DAR_TOT, data=DAR_DATA, data2=DAR_DATA2, d0=-4.0,
         res=DAR_RES, res2=DAR_RES2, r0=-3.8,
         xpx=(588, 988), ypx=(1333, 1636), yr=[0.999, 1.0239], t0=1.0, dt=0.005, mdt=0.0025, rpx=(1275, 1328),
         leg=(600, 1514), title=(600, 1360), xlab=True, xdt=2, xmdt=1, rw=3.0),
]


def chan(start, n, step=0.1):
    return [round(start + step * i, 3) for i in range(n)]


def weave(a, b):
    out = []
    for j, v in enumerate(a):
        out.append(v)
        if j < len(b):
            out.append(b[j])
    return out


def xdom(p):
    return [p[0] / W, min(p[1] / W, 1.0)]


def ydom(p):
    return [1 - p[1] / H, 1 - p[0] / H]


fig = go.Figure()
layout = dict(width=W, height=H, margin=dict(l=0, r=0, t=0, b=0), paper_bgcolor="white",
              plot_bgcolor="rgba(0,0,0,0)", showlegend=True, annotations=[])

DATA_MARKER = dict(symbol="circle-open", size=7.5, color="#3a3a3a", line=dict(width=1))

for i, p in enumerate(PANELS):
    k = i + 1
    kr = k + 8
    xa, ya = f"x{k}", f"y{k}"
    xr, yr = f"x{kr}", f"y{kr}"
    leg = "legend" if k == 1 else f"legend{k}"
    xg = p["xg"]
    base = dict(x=[xg[0], xg[-1]], y=[1.0, 1.0], mode="lines", line=dict(width=0, color="rgba(0,0,0,0)"),
                showlegend=False, hoverinfo="skip", xaxis=xa, yaxis=ya)

    fig.add_trace(go.Scatter(**base))
    fig.add_trace(go.Scatter(x=xg, y=p["oct"], mode="lines", line=dict(color=C_RED, width=1, shape="spline"),
                             fill="tonexty", fillcolor=C_RED, showlegend=False, hoverinfo="skip", xaxis=xa, yaxis=ya))
    fig.add_trace(go.Scatter(**base))
    fig.add_trace(go.Scatter(x=xg, y=p["tet"], mode="lines", line=dict(color=C_GREEN, width=1, shape="spline"),
                             fill="tonexty", fillcolor=C_GREEN, showlegend=False, hoverinfo="skip", xaxis=xa, yaxis=ya))
    fig.add_trace(go.Scatter(**base))
    fig.add_trace(go.Scatter(x=xg, y=p["fe3"], mode="lines", line=dict(color=C_BLUE, width=1.6, shape="spline"),
                             fill="tonexty", fillcolor=FE3_BG[i],
                             fillpattern=dict(shape="/", fgcolor="rgba(20,20,90,0.75)", bgcolor=FE3_BG[i],
                                              size=5, solidity=0.25),
                             showlegend=False, hoverinfo="skip", xaxis=xa, yaxis=ya))
    fig.add_trace(go.Scatter(x=chan(p["d0"], len(p["data"])), y=p["data"], mode="markers", marker=DATA_MARKER,
                             showlegend=False, hoverinfo="skip", xaxis=xa, yaxis=ya))
    fig.add_trace(go.Scatter(x=chan(p["d0"] + 0.05, len(p["data2"])), y=p["data2"], mode="markers",
                             marker=DATA_MARKER, showlegend=False, hoverinfo="skip", xaxis=xa, yaxis=ya))
    fig.add_trace(go.Scatter(x=xg, y=p["tot"], mode="lines", line=dict(color="#111111", width=1.6, shape="spline"),
                             showlegend=False, hoverinfo="skip", xaxis=xa, yaxis=ya))
    # residual (channels interleaved at half steps, drawn as steps)
    rvals = weave(p["res"], p["res2"])
    fig.add_trace(go.Scatter(x=chan(p["r0"], len(rvals), 0.05), y=rvals, mode="lines",
                             line=dict(color="black", width=p["rw"], shape="hv", simplify=False),
                             showlegend=False, hoverinfo="skip", xaxis=xr, yaxis=yr))
    # legend entries
    fig.add_trace(go.Scatter(x=[None], y=[None], mode="markers", name=LEGEND_LABELS[0], legend=leg,
                             marker=DATA_MARKER, xaxis=xa, yaxis=ya))
    for lab, col in zip(LEGEND_LABELS[1:], ["#111111", C_RED, C_GREEN, C_BLUE]):
        fig.add_trace(go.Scatter(x=[None], y=[None], mode="lines", name=lab, legend=leg,
                                 line=dict(color=col, width=2), xaxis=xa, yaxis=ya))

    axis_common = dict(showline=True, mirror=True, linecolor=C_AX, linewidth=1.5, ticks="outside",
                       tickcolor=C_AX, tickwidth=1.4, ticklen=8, showgrid=False, zeroline=False,
                       tickfont=dict(family=FONT, size=17, color="#2a2a2a"))
    layout[f"xaxis{k}"] = dict(domain=xdom(p["xpx"]), range=[-4, 4], anchor=ya, tick0=-4, dtick=p["xdt"],
                               showticklabels=p["xlab"],
                               minor=dict(ticks="outside", dtick=p["xmdt"], ticklen=5, tickcolor=C_AX, tickwidth=1.2),
                               **axis_common)
    layout[f"yaxis{k}"] = dict(domain=ydom(p["ypx"]), range=p["yr"], anchor=xa, tick0=p["t0"], dtick=p["dt"],
                               tickformat=".3f",
                               minor=dict(ticks="outside", tick0=p["t0"], dtick=p["mdt"], ticklen=5,
                                          tickcolor=C_AX, tickwidth=1.2),
                               **axis_common)
    layout[f"xaxis{kr}"] = dict(domain=xdom(p["xpx"]), range=[-4, 4], anchor=yr, visible=False)
    layout[f"yaxis{kr}"] = dict(domain=ydom(p["rpx"]), range=[min(rvals) - 0.5, max(rvals) + 0.5], anchor=xr,
                                visible=False)

    lx, ly = p["leg"]
    layout[leg] = dict(x=(lx - 12) / W, y=1 - (ly - 22) / H, xanchor="left", yanchor="top",
                       bgcolor="rgba(0,0,0,0)", borderwidth=0, tracegroupgap=0, itemwidth=30,
                       traceorder="normal",
                       font=dict(family=FONT, size=15, color="#222222"))

    tx, ty = p["title"]
    layout["annotations"].append(dict(x=tx / W, y=1 - ty / H, xref="paper", yref="paper", xanchor="left",
                                      yanchor="middle", align="left", showarrow=False, text=NAMES[i],
                                      font=dict(family=FONT, size=21, color="#151515")))

# axis titles
for ax_x in (24, 521):
    layout["annotations"].append(dict(x=ax_x / W, y=1 - 806 / H, xref="paper", yref="paper", textangle=-90,
                                      showarrow=False, text="Relative Emission", xanchor="center", yanchor="middle",
                                      font=dict(family=FONT, size=38, color="#151515")))
for ax_x in (298, 788):
    layout["annotations"].append(dict(x=ax_x / W, y=1 - 1688 / H, xref="paper", yref="paper", showarrow=False,
                                      text="Velocity (mm/s)", xanchor="center", yanchor="middle",
                                      font=dict(family=FONT, size=22, color="#151515")))

fig.update_layout(**layout)
fig.write_html("out.html")
